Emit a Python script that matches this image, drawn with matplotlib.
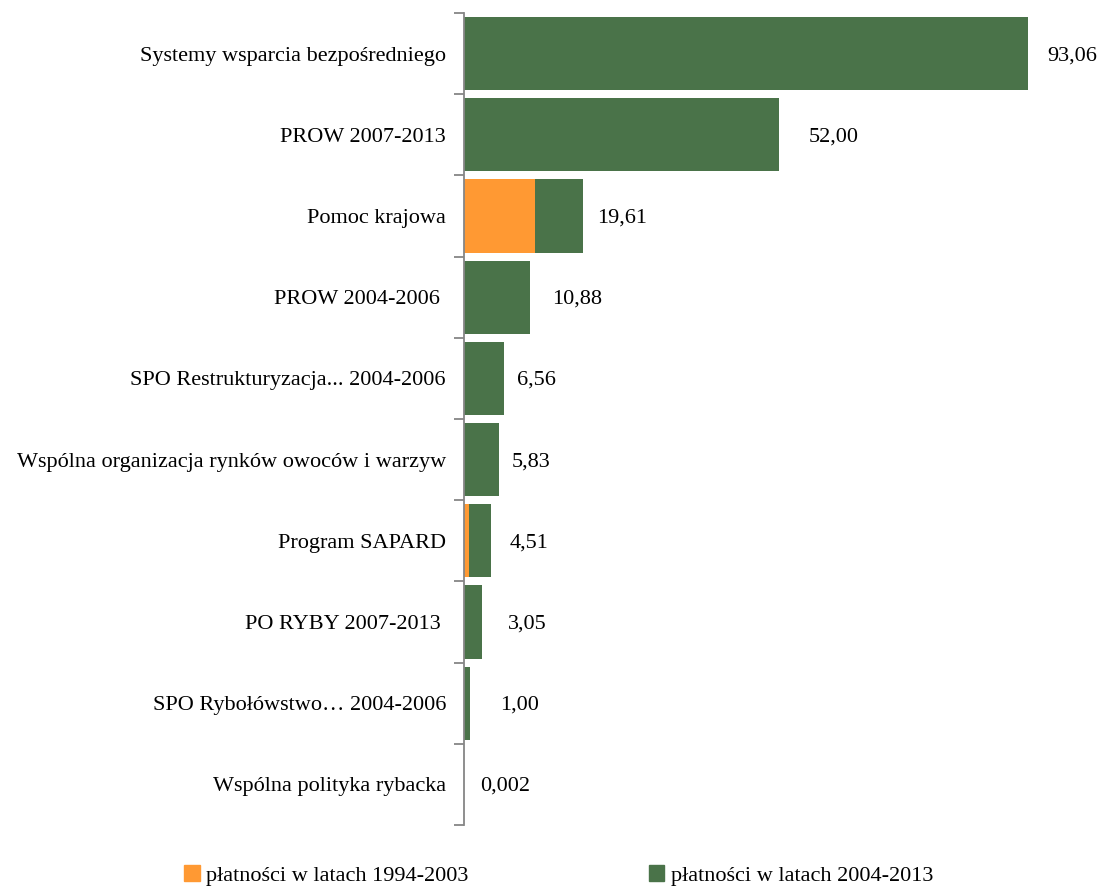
import matplotlib.pyplot as plt
from matplotlib.patches import Patch

categories = [
    "Systemy wsparcia bezpośredniego",
    "PROW 2007-2013",
    "Pomoc krajowa",
    "PROW 2004-2006 ",
    "SPO Restrukturyzacja... 2004-2006",
    "Wspólna organizacja rynków owoców i warzyw",
    "Program SAPARD",
    "PO RYBY 2007-2013 ",
    "SPO Rybołówstwo… 2004-2006",
    "Wspólna polityka rybacka",
]
pay_1994_2003 = [0, 0, 11.7, 0, 0, 0, 0.8, 0, 0, 0]
pay_2004_2013 = [93.06, 52.00, 7.91, 10.88, 6.56, 5.83, 3.71, 3.05, 1.00, 0.002]
total_labels = ["93,06", "52,00", "19,61", "10,88", "6,56", "5,83", "4,51", "3,05", "1,00", "0,002"]
# label gap from bar end, in pixels (labels were placed by hand in the original)
label_gap = [19, 30, 14, 22, 13, 12, 18, 25, 30, 16]

orange = "#FF9933"
green = "#4A7349"
axis_grey = "#868686"

plt.rcParams["font.family"] = ["Liberation Serif", "DejaVu Serif"]

fig = plt.figure(figsize=(11.02, 8.9), dpi=100)
ax = fig.add_axes([464 / 1102, 1 - 825 / 890, (1095 - 464) / 1102, (825 - 13) / 890])

y = list(range(len(categories)))
ax.barh(y, pay_1994_2003, height=0.9, color=orange)
ax.barh(y, pay_2004_2013, left=pay_1994_2003, height=0.9, color=green)

for i, lab in enumerate(total_labels):
    tot = pay_1994_2003[i] + pay_2004_2013[i]
    ax.annotate(lab, (tot, i), xytext=(label_gap[i], -2), textcoords="offset pixels",
                va="center", ha="left", fontsize=16)

ax.set_xlim(0, (1095 - 464) / 6.06)
ax.set_ylim(len(categories) - 0.5, -0.5)
ax.set_yticks(y)
ax.set_yticklabels(categories, fontsize=16)
ax.tick_params(axis="y", which="major", length=0, pad=13)
ax.set_yticks([i - 0.5 for i in range(len(categories) + 1)], minor=True)
ax.tick_params(axis="y", which="minor", length=7, color=axis_grey, width=1.3)
ax.set_xticks([])
for s in ["top", "right", "bottom"]:
    ax.spines[s].set_visible(False)
ax.spines["left"].set_color(axis_grey)
ax.spines["left"].set_linewidth(1.3)

handles = [Patch(color=orange, label="płatności w latach 1994-2003"),
           Patch(color=green, label="płatności w latach 2004-2013")]
fig.legend(handles=handles, ncol=2, loc="center", bbox_to_anchor=(0.507, 0.016),
           frameon=False, fontsize=16, handlelength=0.7, handleheight=0.7,
           handletextpad=0.3, columnspacing=8.1)

fig.savefig("out.png", dpi=100)
